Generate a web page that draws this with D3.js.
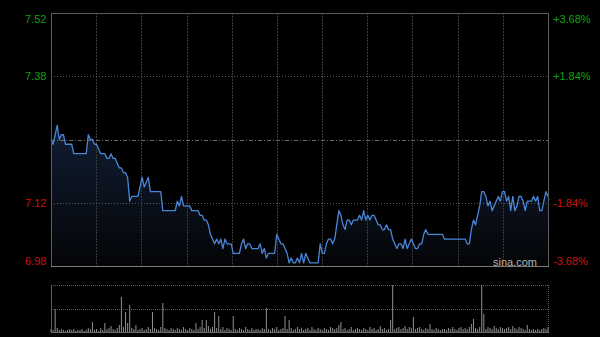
<!DOCTYPE html>
<html>
<head>
<meta charset="utf-8">
<script src="https://cdn.jsdelivr.net/npm/d3@7"></script>
<style>
  html, body { margin: 0; padding: 0; background: #000; }
  svg { display: block; }
  text { font-family: "Liberation Sans", Arial, sans-serif; }
</style>
</head>
<body>
<svg id="chart" width="600" height="337"></svg>
<script>
// ---------- data ----------
const prevClose = 7.25;
const pctTicks = [3.68, 1.84, -1.84, -3.68];
const priceLabels = ["7.52", "7.38", "7.12", "6.98"];
const pctLabels = ["+3.68%", "+1.84%", "-1.84%", "-3.68%"];

// one price per minute (241 minutes)
const prices = [
  7.25,7.24,7.26,7.28,7.25,7.26,7.26,7.24,7.24,7.24,
  7.24,7.22,7.22,7.22,7.22,7.22,7.22,7.22,7.26,7.25,
  7.25,7.24,7.24,7.23,7.22,7.22,7.22,7.21,7.21,7.22,
  7.21,7.21,7.20,7.19,7.19,7.18,7.18,7.17,7.12,7.13,
  7.13,7.13,7.13,7.15,7.17,7.15,7.16,7.17,7.14,7.14,
  7.14,7.14,7.14,7.14,7.10,7.10,7.10,7.10,7.10,7.10,
  7.10,7.12,7.11,7.13,7.11,7.11,7.11,7.11,7.10,7.10,
  7.10,7.10,7.09,7.09,7.08,7.08,7.07,7.05,7.04,7.03,
  7.04,7.03,7.04,7.02,7.04,7.03,7.03,7.03,7.01,7.01,
  7.01,7.01,7.03,7.04,7.02,7.03,7.03,7.02,7.02,7.02,
  7.02,7.03,7.01,7.02,7.00,7.01,7.01,7.01,7.01,7.05,
  7.04,7.03,7.03,7.02,7.01,6.99,7.00,6.99,6.99,7.00,
  6.99,7.01,6.99,7.01,7.00,6.99,6.99,6.99,6.99,6.99,
  7.03,7.01,7.01,7.03,7.04,7.04,7.03,7.04,7.07,7.10,
  7.09,7.07,7.06,7.08,7.08,7.07,7.08,7.08,7.08,7.09,
  7.08,7.10,7.08,7.09,7.08,7.09,7.09,7.08,7.07,7.07,
  7.06,7.06,7.07,7.06,7.06,7.04,7.03,7.02,7.03,7.03,
  7.02,7.04,7.02,7.03,7.04,7.03,7.02,7.02,7.03,7.03,
  7.05,7.06,7.05,7.05,7.05,7.05,7.05,7.05,7.05,7.05,
  7.04,7.04,7.04,7.04,7.04,7.04,7.04,7.04,7.04,7.04,
  7.04,7.03,7.03,7.06,7.08,7.07,7.09,7.11,7.14,7.14,
  7.13,7.11,7.12,7.10,7.11,7.12,7.13,7.12,7.14,7.14,
  7.12,7.13,7.10,7.13,7.10,7.11,7.13,7.13,7.12,7.10,
  7.12,7.12,7.12,7.13,7.12,7.13,7.10,7.10,7.12,7.14,
  7.13
];

// volume per minute (relative units)
const volumes = [
  3,2,23,4,2,3,2,1,2,3,
  2,3,1,2,2,3,1,2,4,3,
  10,2,3,1,4,2,9,3,4,6,
  3,2,4,7,35,5,20,9,27,4,
  3,7,2,3,4,2,3,5,3,20,
  4,3,2,5,29,4,3,2,4,3,
  2,4,3,2,5,3,2,4,3,2,
  9,3,5,12,4,12,6,3,5,20,
  4,16,3,5,2,4,3,2,16,3,
  2,4,3,2,5,3,2,4,2,3,
  3,2,4,3,24,3,2,4,3,5,
  2,3,4,16,3,12,4,2,3,5,
  3,4,2,3,4,2,5,3,2,4,
  3,2,4,3,2,5,4,3,4,7,
  10,3,4,2,3,5,2,3,4,3,
  2,4,3,2,5,3,4,2,3,6,
  3,4,2,3,12,47,3,4,5,3,
  4,6,3,5,4,15,3,4,5,3,
  2,4,3,8,3,2,4,3,2,3,
  3,2,4,3,5,3,2,4,5,3,
  4,3,5,8,13,4,3,5,47,18,
  3,5,4,3,6,4,3,5,4,3,
  4,5,3,6,4,3,5,4,3,2,
  7,3,2,3,2,3,2,3,4,3,
  5
];

const xGridIntervals = 11;

// ---------- layout ----------
const L = 51, R = 548, T = 13, B = 266;
const VT = 285, VB = 332;

const svg = d3.select("#chart");
svg.append("rect").attr("width", 600).attr("height", 337).attr("fill", "#000");

const x = d3.scaleLinear().domain([0, prices.length - 1]).range([L, R]);
const y = d3.scaleLinear()
  .domain([prevClose * (1 - 0.0368), prevClose * (1 + 0.0368)])
  .range([B, T]);
const yv = d3.scaleLinear().domain([0, d3.max(volumes)]).range([VB, VT]);

// gradient
const defs = svg.append("defs");
const grad = defs.append("linearGradient").attr("id", "ag")
  .attr("x1", 0).attr("y1", 0).attr("x2", 0).attr("y2", 1);
grad.append("stop").attr("offset", "0%").attr("stop-color", "#111d33");
grad.append("stop").attr("offset", "100%").attr("stop-color", "#040507");

// area
const area = d3.area()
  .x((d, i) => x(i))
  .y0(B)
  .y1(d => y(d));
svg.append("path").datum(prices)
  .attr("d", area)
  .attr("fill", "url(#ag)");

// vertical grid
const vgrid = d3.range(1, xGridIntervals).map(k => k * (prices.length - 1) / xGridIntervals);
svg.append("g").selectAll("line").data(vgrid).join("line")
  .attr("x1", d => Math.round(x(d)) + 0.5).attr("x2", d => Math.round(x(d)) + 0.5)
  .attr("y1", T).attr("y2", B)
  .attr("stroke", "#3a3a3a").attr("stroke-width", 1)
  .attr("stroke-dasharray", "2,1");

// horizontal grid at +/-1.84%
const hg = [1.84, -1.84];
svg.append("g").selectAll("line").data(hg).join("line")
  .attr("x1", L).attr("x2", R)
  .attr("y1", d => Math.round(y(prevClose * (1 + d / 100))) + 0.5)
  .attr("y2", d => Math.round(y(prevClose * (1 + d / 100))) + 0.5)
  .attr("stroke", "#5a5a5a").attr("stroke-width", 1)
  .attr("stroke-dasharray", "1,2");

// prev close line
svg.append("line")
  .attr("x1", L).attr("x2", R)
  .attr("y1", Math.round(y(prevClose)) + 0.5).attr("y2", Math.round(y(prevClose)) + 0.5)
  .attr("stroke", "#6a6a6a").attr("stroke-width", 1)
  .attr("stroke-dasharray", "4,2,1,2");

// price line
const line = d3.line().x((d, i) => x(i)).y(d => y(d));
svg.append("path").datum(prices)
  .attr("d", line)
  .attr("fill", "none")
  .attr("stroke", "#4a86d8")
  .attr("stroke-width", 1.3)
  .attr("stroke-linejoin", "round");

// main border
svg.append("line").attr("x1", L).attr("x2", R).attr("y1", T + 0.5).attr("y2", T + 0.5)
  .attr("stroke", "#5c5c5c");
svg.append("line").attr("x1", L + 0.5).attr("x2", L + 0.5).attr("y1", T).attr("y2", B)
  .attr("stroke", "#5c5c5c");
svg.append("line").attr("x1", R + 0.5).attr("x2", R + 0.5).attr("y1", T).attr("y2", B)
  .attr("stroke", "#5c5c5c");
svg.append("line").attr("x1", L).attr("x2", R + 1).attr("y1", B + 0.5).attr("y2", B + 0.5)
  .attr("stroke", "#7a7a7a");

// axes labels
const tickVals = pctTicks.map(p => prevClose * (1 + p / 100));
const colorFor = p => p > 0 ? "#0fa30f" : "#d01010";
const offsetFor = (i) => i === 0 ? 6 : (i === pctTicks.length - 1 ? -5 : 0);

const leftAxis = d3.axisLeft(y).tickValues(tickVals)
  .tickFormat((d, i) => priceLabels[i]).tickSize(0).tickPadding(4);
const gl = svg.append("g").attr("transform", `translate(${L - 0.5},0)`).call(leftAxis);
gl.select(".domain").remove();
gl.selectAll("text")
  .attr("font-size", 11)
  .attr("font-family", "Liberation Sans, Arial, sans-serif")
  .attr("fill", (d, i) => colorFor(pctTicks[i]))
  .attr("transform", (d, i) => `translate(0,${offsetFor(i)})`);

const rightAxis = d3.axisRight(y).tickValues(tickVals)
  .tickFormat((d, i) => pctLabels[i]).tickSize(0).tickPadding(5);
const gr = svg.append("g").attr("transform", `translate(${R},0)`).call(rightAxis);
gr.select(".domain").remove();
gr.selectAll("text")
  .attr("font-size", 11)
  .attr("font-family", "Liberation Sans, Arial, sans-serif")
  .attr("fill", (d, i) => colorFor(pctTicks[i]))
  .attr("transform", (d, i) => `translate(0,${offsetFor(i)})`);

// watermark
svg.append("text").attr("x", 537).attr("y", 265.5)
  .attr("text-anchor", "end")
  .attr("font-size", 11)
  .attr("fill", "#b4b4b4")
  .text("sina.com");

// ---------- volume panel ----------
svg.append("line").attr("x1", L).attr("x2", R).attr("y1", VT + 0.5).attr("y2", VT + 0.5)
  .attr("stroke", "#5a5a5a").attr("stroke-dasharray", "1,1");
svg.append("line").attr("x1", L).attr("x2", R).attr("y1", Math.round((VT + VB) / 2) + 0.5)
  .attr("y2", Math.round((VT + VB) / 2) + 0.5)
  .attr("stroke", "#5a5a5a").attr("stroke-dasharray", "1,1");
svg.append("line").attr("x1", R + 0.5).attr("x2", R + 0.5).attr("y1", VT).attr("y2", VB)
  .attr("stroke", "#5a5a5a").attr("stroke-dasharray", "1,1");

svg.append("g").selectAll("rect").data(volumes).join("rect")
  .attr("x", (d, i) => x(i) - 0.5)
  .attr("width", 1)
  .attr("y", d => yv(d))
  .attr("height", d => VB - yv(d))
  .attr("fill", "#8f8f8f");

svg.append("line").attr("x1", L + 0.5).attr("x2", L + 0.5).attr("y1", VT).attr("y2", VB)
  .attr("stroke", "#5c5c5c");
svg.append("line").attr("x1", L).attr("x2", R + 1).attr("y1", VB + 0.5).attr("y2", VB + 0.5)
  .attr("stroke", "#6a6a6a");
</script>
</body>
</html>
